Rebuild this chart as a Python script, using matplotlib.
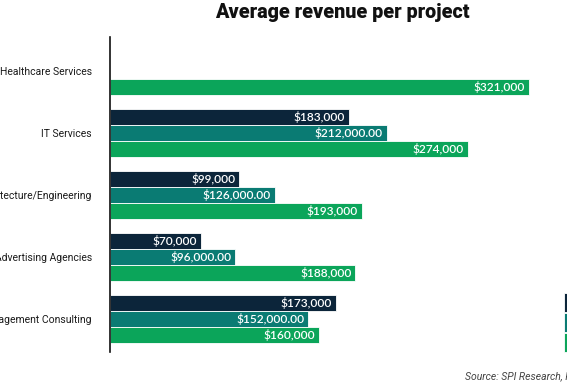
import matplotlib.pyplot as plt
import numpy as np

# data
categories = ['Healthcare Services', 'IT Services', 'Architecture/Engineering',
              'Advertising Agencies', 'Management Consulting']
series_names = ['2022', '2023', '2024']
rev_2022 = [np.nan, 183000, 99000, 70000, 173000]
rev_2023 = [np.nan, 212000.00, 126000.00, 96000.00, 152000.00]
rev_2024 = [321000, 274000, 193000, 188000, 160000]
colors = ['#0c253a', '#0a7b73', '#0ba55a']
label_fmt = ['${:,.0f}', '${:,.2f}', '${:,.0f}']

W, H = 567, 388
fig = plt.figure(figsize=(W / 100, H / 100), dpi=100)
ax = fig.add_axes([110 / W, 1 - 352 / H, 457 / W, 315 / H])

ind = np.arange(len(categories))
h = 0.258
for i, (vals, c, fmt) in enumerate(zip([rev_2022, rev_2023, rev_2024], colors, label_fmt)):
    ypos = ind + (i - 1) * h
    bars = ax.barh(ypos, vals, height=h, color=c, edgecolor='white', linewidth=0.6,
                   label=series_names[i])
    for y, v in zip(ypos, vals):
        if np.isnan(v):
            continue
        ax.text(v - 3000, y, fmt.format(v), color='white', ha='right', va='center',
                fontsize=8.6, family='Lato', fontweight='semibold')

ax.set_xlim(0, 350000)
ax.set_ylim(len(categories) - 1 + 0.53, -0.55)
ax.set_yticks(ind)
ax.set_yticklabels(categories, fontsize=7.5, family='Roboto', color='#1a1a1a')
ax.tick_params(axis='y', length=0, pad=13)
ax.set_xticks([])
for s in ['top', 'right', 'bottom']:
    ax.spines[s].set_visible(False)
ax.spines['left'].set_linewidth(1.2)
ax.spines['left'].set_color('#111111')

fig.text(342 / W, 1 - 13 / H, 'Average revenue per project', ha='center', va='center',
         fontsize=14.2, fontweight='heavy', family='Roboto', color='#111111')

fig.legend(loc='upper left', bbox_to_anchor=(564 / W, 1 - 293 / H), frameon=False,
           handlelength=1.0, handleheight=2.2, labelspacing=0.12, fontsize=8,
           borderaxespad=0, borderpad=0)

fig.text(465 / W, 1 - 377 / H, 'Source: SPI Research, Professional Services Maturity Benchmark',
         ha='left', va='center', fontsize=7.5, style='italic', family='Roboto', color='#444444')

fig.savefig('out.png', dpi=100)
